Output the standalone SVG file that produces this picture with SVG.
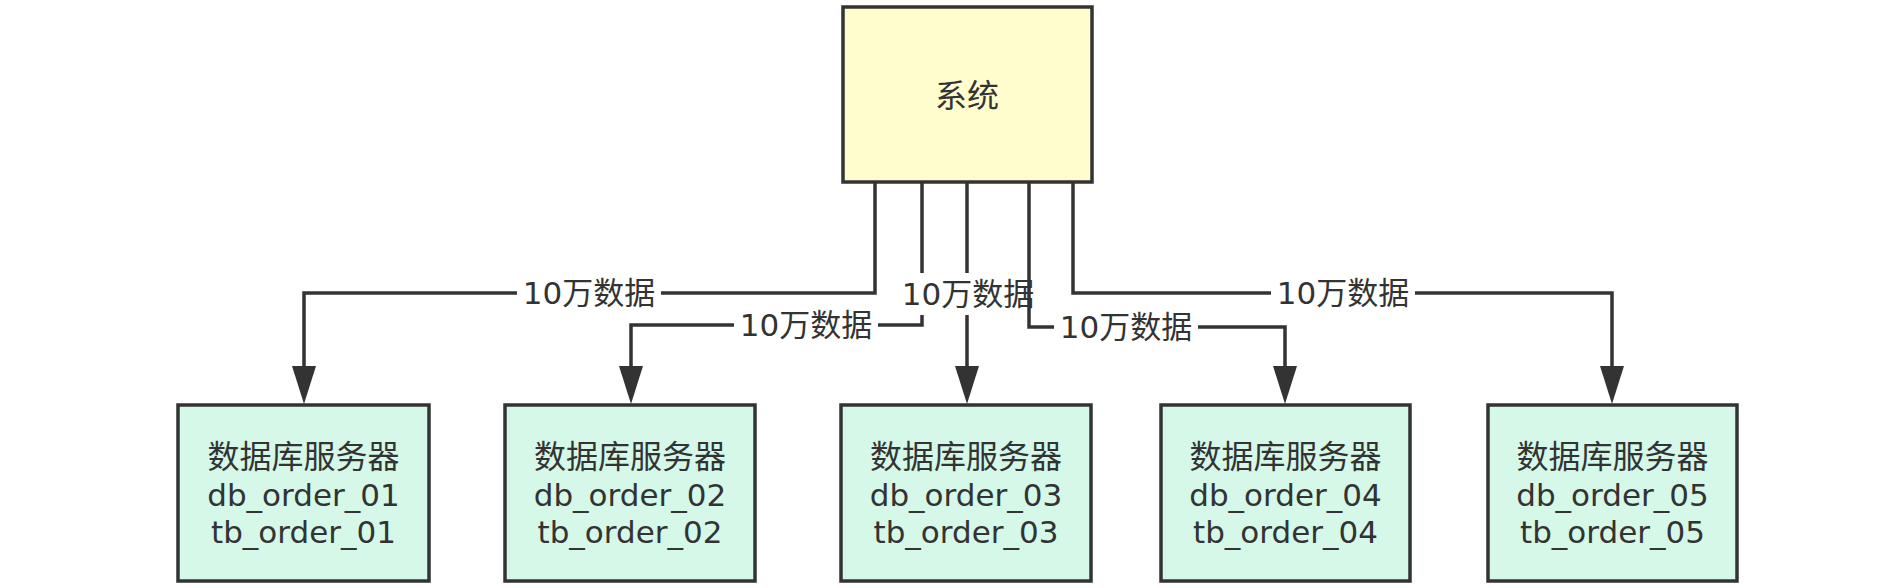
<svg xmlns="http://www.w3.org/2000/svg" width="1890" height="588" viewBox="0 0 1890 588">
<style>
.sys{fill:#fffcce;stroke:#333;stroke-width:3.5}
.db{fill:#d5f8e8;stroke:#333;stroke-width:3.5}
.edge{fill:none;stroke:#333;stroke-width:3.5}
.t{font-family:"DejaVu Sans","Noto Sans CJK SC",sans-serif;fill:#333;text-anchor:middle}
.cjk{font-size:32px}
.lat{font-size:31px}
.lbl{font-size:31px}
.bg{fill:#fff}
</style>
<defs>
<marker id="arr" markerUnits="userSpaceOnUse" markerWidth="40" markerHeight="26" refX="0" refY="12" orient="auto" viewBox="0 0 40 26" overflow="visible">
<path d="M0,0 L38,12 L0,24 z" fill="#333"/>
</marker>
</defs>
<rect width="1890" height="588" fill="#fff"/>
<g id="connectors">
<g id="c1">
<path class="edge" d="M875,182 V293 H304 V366" marker-end="url(#arr)"/>
<rect class="bg" x="517" y="274" width="144" height="38"/>
<text class="t lbl" x="589" y="304">10万数据</text>
</g>
<g id="c2">
<path class="edge" d="M922,182 V325 H631 V366" marker-end="url(#arr)"/>
<rect class="bg" x="734" y="306" width="144" height="38"/>
<text class="t lbl" x="806" y="336">10万数据</text>
</g>
<g id="c3">
<path class="edge" d="M967,182 V366" marker-end="url(#arr)"/>
<rect class="bg" x="896" y="273" width="144" height="42"/>
<text class="t lbl" x="968" y="305">10万数据</text>
</g>
<g id="c4">
<path class="edge" d="M1029,182 V327 H1285 V366" marker-end="url(#arr)"/>
<rect class="bg" x="1054" y="308" width="144" height="38"/>
<text class="t lbl" x="1126" y="338">10万数据</text>
</g>
<g id="c5">
<path class="edge" d="M1073,182 V293 H1612 V366" marker-end="url(#arr)"/>
<rect class="bg" x="1271" y="274" width="144" height="38"/>
<text class="t lbl" x="1343" y="304">10万数据</text>
</g>
</g>
<g id="system">
<rect class="sys" x="843" y="7" width="249" height="175"/>
<text class="t cjk" x="967" y="107">系统</text>
</g>
<g id="db1">
<rect class="db" x="178" y="405" width="251" height="176"/>
<text class="t cjk" x="303.5" y="468">数据库服务器</text>
<text class="t lat" x="303.5" y="506">db_order_01</text>
<text class="t lat" x="303.5" y="543">tb_order_01</text>
</g>
<g id="db2">
<rect class="db" x="505" y="405" width="250" height="176"/>
<text class="t cjk" x="630" y="468">数据库服务器</text>
<text class="t lat" x="630" y="506">db_order_02</text>
<text class="t lat" x="630" y="543">tb_order_02</text>
</g>
<g id="db3">
<rect class="db" x="841" y="405" width="250" height="176"/>
<text class="t cjk" x="966" y="468">数据库服务器</text>
<text class="t lat" x="966" y="506">db_order_03</text>
<text class="t lat" x="966" y="543">tb_order_03</text>
</g>
<g id="db4">
<rect class="db" x="1161" y="405" width="249" height="176"/>
<text class="t cjk" x="1285.5" y="468">数据库服务器</text>
<text class="t lat" x="1285.5" y="506">db_order_04</text>
<text class="t lat" x="1285.5" y="543">tb_order_04</text>
</g>
<g id="db5">
<rect class="db" x="1488" y="405" width="249" height="176"/>
<text class="t cjk" x="1612.5" y="468">数据库服务器</text>
<text class="t lat" x="1612.5" y="506">db_order_05</text>
<text class="t lat" x="1612.5" y="543">tb_order_05</text>
</g>
</svg>
